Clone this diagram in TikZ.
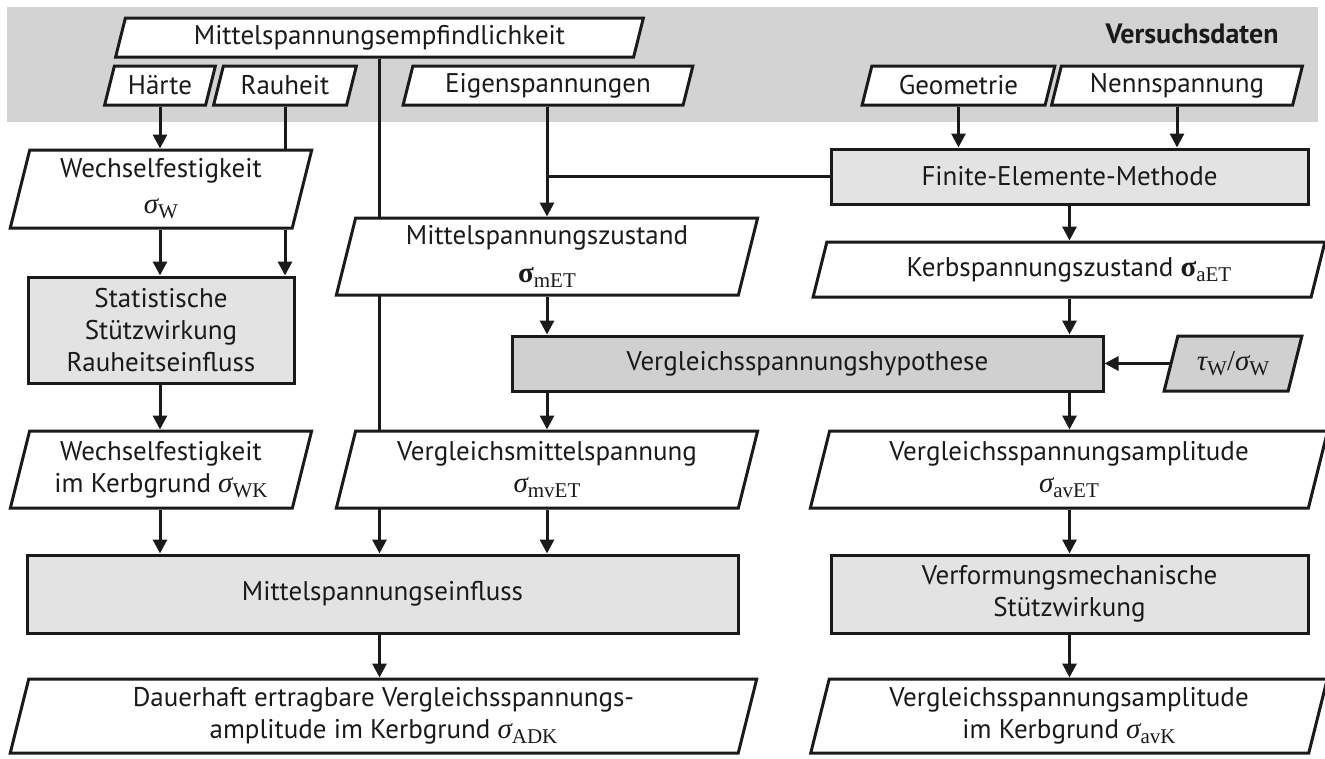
\documentclass[tikz,border=0pt]{standalone}
\usepackage[no-math]{fontspec}
\setmainfont{PT Sans}
\newfontfamily\symf{Liberation Serif}
% #1 greek letter (italic), #2 subscript
\newcommand{\sg}[2]{{\fontsize{29}{32}\selectfont\symf\itshape #1}\raisebox{-5pt}{\fontsize{21}{21}\selectfont\symf #2}}
\newcommand{\sgb}[2]{{\fontsize{29}{32}\selectfont\symf\bfseries #1}\raisebox{-5pt}{\fontsize{21}{21}\selectfont\symf #2}}
\usetikzlibrary{arrows.meta}
\definecolor{bandgray}{HTML}{D2D3D2}
\definecolor{darkfill}{HTML}{CFD0CF}
\definecolor{lightfill}{HTML}{E3E3E3}
\definecolor{ink}{HTML}{1A1A1A}
\pgfdeclarelayer{band}
\pgfdeclarelayer{lines}
\pgfsetlayers{band,lines,main}
\tikzset{
  txt/.style={font=\fontsize{27}{32}\selectfont, text=ink, align=center},
  ptext/.style={txt, rectangle, inner sep=0pt, outer sep=1.5pt},
  pshape/.style={draw=ink, line width=3pt, fill=white},
  pdark/.style={draw=ink, line width=3pt, fill=darkfill},
  rbox/.style={txt, rectangle, draw=ink, line width=3pt, inner sep=0pt, fill=lightfill},
  rdark/.style={rbox, fill=darkfill},
  ln/.style={draw=ink, line width=3pt},
  arr/.style={ln, -{Triangle[length=14pt,width=14pt]}},
}
% #1 shape style, #2 name, #3 cx, #4 ytop, #5 ybottom, #6 width at mid height, #7 text
\newcommand{\pbox}[7]{%
  \pgfmathsetmacro\pbH{#5-#4}%
  \pgfmathsetmacro\pbS{0.25*\pbH}%
  \pgfmathsetmacro\pbY{(#4+#5)/2}%
  \draw[#1] ({#3-#6/2-\pbS/2},#5) -- ({#3+#6/2-\pbS/2},#5) -- ({#3+#6/2+\pbS/2},#4) -- ({#3-#6/2+\pbS/2},#4) -- cycle;
  \node[ptext, minimum width=#6, minimum height=\pbH] (#2) at (#3,\pbY) {#7};%
}
\begin{document}
\begin{tikzpicture}[x=1pt,y=-1pt]
\useasboundingbox (0,0) rectangle (1325,758);
\begin{pgfonlayer}{band}
  \fill[bandgray] (7,7) rectangle (1318,122);
\end{pgfonlayer}
\node[txt, font=\fontsize{28}{32}\selectfont\bfseries] (vd) at (1192,34) {Versuchsdaten};
% top row
\pbox{pshape}{me}{379.5}{18}{57}{518}{Mittelspannungsempfindlichkeit}
\pbox{pshape}{haerte}{160}{66}{105}{101}{Härte}
\pbox{pshape}{rauheit}{285}{66}{105}{133}{Rauheit}
\pbox{pshape}{eigen}{548}{66}{105}{280}{Eigenspannungen}
\pbox{pshape}{geo}{958.5}{66}{105}{183}{Geometrie}
\pbox{pshape}{nenn}{1177}{66}{105}{241}{Nennspannung}
% left column
\pbox{pshape}{wf}{161}{150}{228}{282}{Wechselfestigkeit\\[4pt]\sg{σ}{W}}
\node[rbox, minimum width=266, minimum height=106] (ss) at (161,330) {Statistische\\Stützwirkung\\Rauheitseinfluss};
\pbox{pshape}{wfk}{161}{431}{508}{282}{Wechselfestigkeit\\im Kerbgrund \sg{σ}{WK}}
% middle column
\pbox{pshape}{mz}{547}{218}{295}{402}{Mittelspannungszustand\\[6pt]\sgb{σ}{mET}}
\node[rdark, minimum width=591, minimum height=55] (vh) at (807.5,363.5) {Vergleichsspannungshypothese};
\pbox{pshape}{vms}{547}{431}{508}{402}{Vergleichsmittelspannung\\\sg{σ}{mvET}}
\node[rbox, minimum width=711, minimum height=78] (meinfl) at (382.5,594) {Mittelspannungseinfluss};
\pbox{pshape}{dev}{383.5}{679}{753}{728}{Dauerhaft ertragbare Vergleichsspannungs-\\amplitude im Kerbgrund \sg{σ}{ADK}}
% right column
\node[rbox, minimum width=477, minimum height=55] (fem) at (1069.5,176.5) {Finite-Elemente-Methode};
\pbox{pshape}{kz}{1069}{242}{297}{498}{Kerbspannungszustand \sgb{σ}{aET}}
\pbox{pdark}{ts}{1233}{336}{391}{124}{\sg{τ}{W}{\fontsize{29}{32}\selectfont\symf/}\sg{σ}{W}}
\pbox{pshape}{vsa}{1069}{431}{508}{498}{Vergleichsspannungsamplitude\\\sg{σ}{avET}}
\node[rbox, minimum width=477, minimum height=78] (vm) at (1069.5,594) {Verformungsmechanische\\Stützwirkung};
\pbox{pshape}{vsak}{1069}{679}{753}{498}{Vergleichsspannungsamplitude\\im Kerbgrund \sg{σ}{avK}}
% connectors
\begin{pgfonlayer}{lines}
  \draw[arr] (haerte.south) -- (haerte.south |- wf.north);
  \draw[ln] (rauheit.south) -- (rauheit.south |- wf.north);
  \draw[arr] (wf.south -| haerte.south) -- (ss.north -| haerte.south);
  \draw[arr] (wf.south -| rauheit.south) -- (ss.north -| rauheit.south);
  \draw[arr] (ss.south -| haerte.south) -- (wfk.north -| haerte.south);
  \draw[arr] (wfk.south -| haerte.south) -- (meinfl.north -| haerte.south);
  \draw[arr] (me.south) -- (me.south |- meinfl.north);
  \draw[arr] (meinfl.south -| me.south) -- (dev.north -| me.south);
  \draw[arr] (eigen.south -| mz.north) -- (mz.north);
  \draw[ln] (fem.west) -- (fem.west -| mz.north);
  \draw[arr] (geo.south) -- (geo.south |- fem.north);
  \draw[arr] (nenn.south) -- (nenn.south |- fem.north);
  \draw[arr] (fem.south) -- (fem.south |- kz.north);
  \draw[arr] (mz.south) -- (mz.south |- vh.north);
  \draw[arr] (kz.south -| fem.south) -- (vh.north -| fem.south);
  \draw[arr] (ts.west) -- (ts.west -| vh.east);
  \draw[arr] (vh.south -| mz.south) -- (vms.north -| mz.south);
  \draw[arr] (vh.south -| fem.south) -- (vsa.north -| fem.south);
  \draw[arr] (vms.south) -- (vms.south |- meinfl.north);
  \draw[arr] (vsa.south -| fem.south) -- (vm.north -| fem.south);
  \draw[arr] (vm.south) -- (vm.south |- vsak.north);
\end{pgfonlayer}
\end{tikzpicture}
\end{document}
